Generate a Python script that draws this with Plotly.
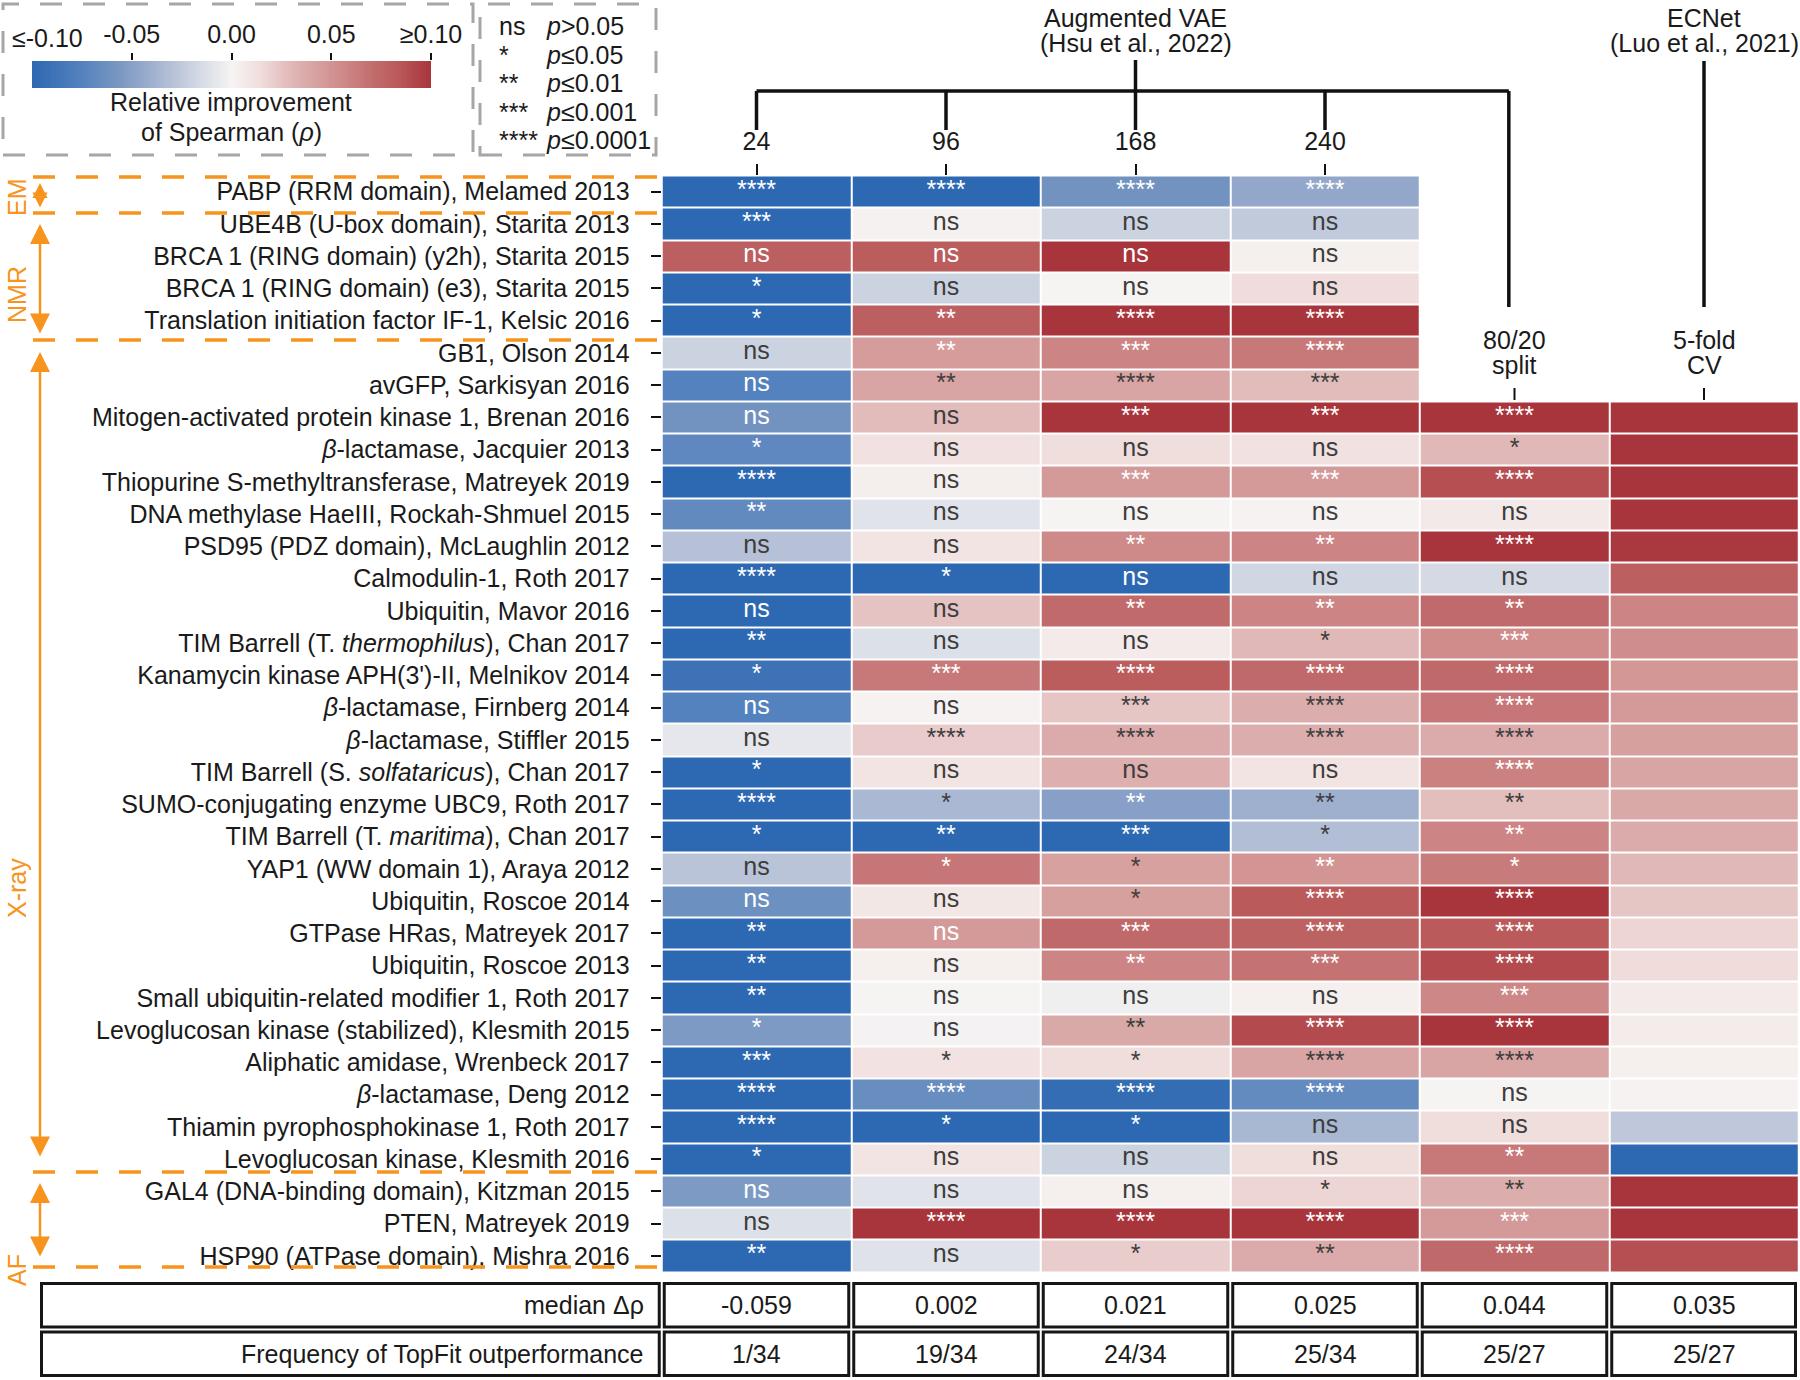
import numpy as np
import plotly.graph_objects as go

# ---------------- data ----------------
datasets = [
    "PABP (RRM domain), Melamed 2013",
    "UBE4B (U-box domain), Starita 2013",
    "BRCA 1 (RING domain) (y2h), Starita 2015",
    "BRCA 1 (RING domain) (e3), Starita 2015",
    "Translation initiation factor IF-1, Kelsic 2016",
    "GB1, Olson 2014",
    "avGFP, Sarkisyan 2016",
    "Mitogen-activated protein kinase 1, Brenan 2016",
    "<i>β</i>-lactamase, Jacquier 2013",
    "Thiopurine S-methyltransferase, Matreyek 2019",
    "DNA methylase HaeIII, Rockah-Shmuel 2015",
    "PSD95 (PDZ domain), McLaughlin 2012",
    "Calmodulin-1, Roth 2017",
    "Ubiquitin, Mavor 2016",
    "TIM Barrell (T. <i>thermophilus</i>), Chan 2017",
    "Kanamycin kinase APH(3')-II, Melnikov 2014",
    "<i>β</i>-lactamase, Firnberg 2014",
    "<i>β</i>-lactamase, Stiffler 2015",
    "TIM Barrell (S. <i>solfataricus</i>), Chan 2017",
    "SUMO-conjugating enzyme UBC9, Roth 2017",
    "TIM Barrell (T. <i>maritima</i>), Chan 2017",
    "YAP1 (WW domain 1), Araya 2012",
    "Ubiquitin, Roscoe 2014",
    "GTPase HRas, Matreyek 2017",
    "Ubiquitin, Roscoe 2013",
    "Small ubiquitin-related modifier 1, Roth 2017",
    "Levoglucosan kinase (stabilized), Klesmith 2015",
    "Aliphatic amidase, Wrenbeck 2017",
    "<i>β</i>-lactamase, Deng 2012",
    "Thiamin pyrophosphokinase 1, Roth 2017",
    "Levoglucosan kinase, Klesmith 2016",
    "GAL4 (DNA-binding domain), Kitzman 2015",
    "PTEN, Matreyek 2019",
    "HSP90 (ATPase domain), Mishra 2016",
]

vae_sizes = ["24", "96", "168", "240"]

vae24 = [-0.10, -0.10, 0.080, -0.10, -0.10, -0.020, -0.075, -0.060, -0.070, -0.10,
         -0.068, -0.030, -0.10, -0.10, -0.10, -0.090, -0.075, -0.008, -0.10, -0.10,
         -0.10, -0.028, -0.063, -0.10, -0.10, -0.10, -0.055, -0.10, -0.10, -0.10,
         -0.10, -0.055, -0.012, -0.10]
sig24 = ["****", "***", "ns", "*", "*", "ns", "ns", "ns", "*", "****",
         "**", "ns", "****", "ns", "**", "*", "ns", "ns", "*", "****",
         "*", "ns", "ns", "**", "**", "**", "*", "***", "****", "****",
         "*", "ns", "ns", "**"]

vae96 = [-0.10, 0.002, 0.082, -0.020, 0.080, 0.045, 0.040, 0.028, 0.012, 0.004,
         -0.010, 0.010, -0.10, 0.025, -0.012, 0.065, 0.001, 0.022, 0.010, -0.035,
         -0.10, 0.066, 0.008, 0.046, 0.003, 0.000, -0.001, 0.011, -0.065, -0.10,
         0.010, -0.010, 0.10, -0.011]
sig96 = ["****", "ns", "ns", "ns", "**", "**", "**", "ns", "ns", "ns",
         "ns", "ns", "*", "ns", "ns", "***", "ns", "****", "ns", "*",
         "**", "*", "ns", "ns", "ns", "ns", "ns", "*", "****", "*",
         "ns", "ns", "****", "ns"]

vae168 = [-0.060, -0.020, 0.10, 0.000, 0.10, 0.058, 0.040, 0.10, 0.014, 0.046,
          0.000, 0.055, -0.10, 0.072, 0.006, 0.082, 0.024, 0.037, 0.034, -0.050,
          -0.10, 0.042, 0.043, 0.073, 0.058, -0.003, 0.038, 0.014, -0.095, -0.10,
          -0.020, 0.003, 0.10, 0.021]
sig168 = ["****", "ns", "ns", "ns", "****", "***", "****", "***", "ns", "***",
          "ns", "**", "ns", "**", "ns", "****", "***", "****", "ns", "**",
          "***", "*", "*", "***", "**", "ns", "**", "*", "****", "*",
          "ns", "ns", "****", "*"]

vae240 = [-0.045, -0.025, 0.003, 0.015, 0.10, 0.065, 0.028, 0.10, 0.012, 0.046,
          0.001, 0.058, -0.018, 0.058, 0.030, 0.073, 0.036, 0.036, 0.010, -0.040,
          -0.032, 0.049, 0.083, 0.078, 0.068, 0.003, 0.090, 0.040, -0.067, -0.036,
          0.014, 0.018, 0.10, 0.037]
sig240 = ["****", "ns", "ns", "ns", "****", "****", "***", "***", "ns", "***",
          "ns", "**", "ns", "**", "*", "****", "****", "****", "ns", "**",
          "*", "**", "****", "****", "***", "ns", "****", "****", "****", "ns",
          "ns", "*", "****", "**"]

split8020 = [None] * 7 + [0.10, 0.030, 0.088, 0.007, 0.10, -0.016, 0.072, 0.054, 0.073, 0.066,
                          0.037, 0.060, 0.027, 0.058, 0.063, 0.10, 0.083, 0.090, 0.057, 0.10,
                          0.040, 0.000, 0.014, 0.064, 0.036, 0.046, 0.073]
sig8020 = [""] * 7 + ["****", "*", "****", "ns", "****", "ns", "**", "***", "****", "****",
                      "****", "****", "**", "**", "*", "****", "****", "****", "***", "****",
                      "****", "ns", "ns", "**", "**", "***", "****"]

cv5fold = [None] * 7 + [0.10, 0.10, 0.10, 0.10, 0.098, 0.080, 0.058, 0.053, 0.048, 0.046,
                        0.043, 0.040, 0.038, 0.037, 0.030, 0.024, 0.018, 0.015, 0.006, 0.005,
                        0.003, 0.001, -0.026, -0.10, 0.10, 0.10, 0.088]

median_drho = [-0.059, 0.002, 0.021, 0.025, 0.044, 0.035]
topfit_wins = [1, 19, 24, 25, 25, 25]
topfit_total = [34, 34, 34, 34, 27, 27]

groups = ["EM", "NMR", "X-ray", "AF"]

# ---------------- styling ----------------
W, H = 1800, 1380
FONT = "Liberation Sans, Arial, Helvetica, sans-serif"
ORANGE = "#f7941d"
GREY = "#a6a6a6"
TXT = "#1a1a1a"


def px(x):
    return x / W


def py(y):
    return 1 - y / H


HM_LEFT, HM_RIGHT = 661.75, 1798.75
HM_TOP, HM_BOTTOM = 175.5, 1272.0
COLW = (HM_RIGHT - HM_LEFT) / 6

colorscale = [
    [0.0, "#2d68b2"], [0.125, "#5482be"], [0.2, "#7293c0"], [0.275, "#93a7cb"],
    [0.35, "#b6c1d7"], [0.425, "#d6dbe5"], [0.5, "#f6f4f3"], [0.575, "#f0dcdb"],
    [0.64, "#e1bcbb"], [0.7, "#d8a5a4"], [0.79, "#cc8584"], [0.86, "#c16a6b"],
    [0.91, "#bb5c5d"], [1.0, "#a8353b"],
]

cols = [vae24, vae96, vae168, vae240, split8020, cv5fold]
sigs = [sig24, sig96, sig168, sig240, sig8020, [""] * 34]
n_rows = len(datasets)

Z = np.array([[np.nan if c[r] is None else c[r] for c in cols] for r in range(n_rows)], dtype=float)

fig = go.Figure()
fig.add_trace(go.Heatmap(
    z=Z, x=list(range(6)), y=list(range(n_rows)),
    colorscale=colorscale, zmin=-0.1, zmax=0.1, showscale=False,
    xgap=2, ygap=2, hoverinfo="skip", xaxis="x", yaxis="y",
))

# significance annotations inside cells
tx, ty, tt, tc = [], [], [], []
for j, (c, s) in enumerate(zip(cols, sigs)):
    for r in range(n_rows):
        if s[r]:
            tx.append(j)
            ty.append(r)
            tt.append(s[r])
            tc.append("white" if abs(c[r]) >= 0.044 else "#3d3d3d")
fig.add_trace(go.Scatter(
    x=tx, y=ty, text=tt, mode="text", textposition="middle center",
    textfont=dict(size=25, color=tc, family=FONT), hoverinfo="skip",
    cliponaxis=False, xaxis="x", yaxis="y", showlegend=False,
))

# colour legend bar
grad = np.linspace(-0.1, 0.1, 256)
fig.add_trace(go.Heatmap(
    z=[grad], x=grad, y=[0], colorscale=colorscale, zmin=-0.1, zmax=0.1,
    showscale=False, hoverinfo="skip", xaxis="x2", yaxis="y2",
))

shapes = []
ann = []

# top bracket (Augmented VAE)
LW = 3.5
def vline(x, y0, y1, xref="x"):
    shapes.append(dict(type="line", xref=xref, yref="paper", x0=x, x1=x, y0=py(y0), y1=py(y1),
                       line=dict(color="#111111", width=LW)))

vline(2, 60, 91)
shapes.append(dict(type="line", xref="x", yref="paper", x0=0, x1=3.97, y0=py(91), y1=py(91),
                   line=dict(color="#111111", width=LW)))
for j in range(4):
    vline(j, 91, 130)
vline(3.97, 91, 307)
vline(5, 61, 307)
for j in (4, 5):
    shapes.append(dict(type="line", xref="x", yref="paper", x0=j, x1=j, y0=py(388), y1=py(400),
                       line=dict(color="#111111", width=2)))

def text(x, y, s, xref="paper", xanchor="center", size=25, color=TXT, angle=0):
    ann.append(dict(x=x, y=y, xref=xref, yref="paper", text=s, showarrow=False,
                    xanchor=xanchor, yanchor="middle", textangle=angle,
                    font=dict(size=size, color=color, family=FONT)))

text(2, py(18), "Augmented VAE", xref="x")
text(2, py(43), "(Hsu et al., 2022)", xref="x")
text(5, py(18), "ECNet", xref="x")
text(5, py(43), "(Luo et al., 2021)", xref="x")
text(4, py(340), "80/20", xref="x")
text(4, py(365), "split", xref="x")
text(5, py(340), "5-fold", xref="x")
text(5, py(365), "CV", xref="x")

# colour legend texts
text(px(47), py(38), "≤-0.10")
text(px(231), py(102), "Relative improvement")
text(px(231), py(132), "of Spearman (<i>ρ</i>)")

# significance legend
sig_keys = ["ns", "*", "**", "***", "****"]
sig_desc = ["<i>p</i>>0.05", "<i>p</i>≤0.05", "<i>p</i>≤0.01", "<i>p</i>≤0.001", "<i>p</i>≤0.0001"]
for k, (a, b) in enumerate(zip(sig_keys, sig_desc)):
    yy = 26 + k * 28.6
    text(px(497), py(yy), a, xanchor="left")
    text(px(544), py(yy), b, xanchor="left")

# dashed grey boxes
for (x0, x1) in [(3, 473), (480, 656)]:
    shapes.append(dict(type="rect", xref="paper", yref="paper", x0=px(x0), x1=px(x1),
                       y0=py(155), y1=py(4), line=dict(color=GREY, width=3, dash="22px,21px")))

# orange group separators
for yy in [177, 213, 340, 1172, 1267]:
    shapes.append(dict(type="line", xref="paper", yref="paper", x0=px(33), x1=px(662),
                       y0=py(yy), y1=py(yy), line=dict(color=ORANGE, width=3.5, dash="22px,21px")))

# orange double arrows
for (y0, y1, sz) in [(183, 209, 1.2), (224, 335, 1.6), (352, 1158, 1.6), (1183, 1258, 1.6)]:
    ann.append(dict(x=px(40), y=py(y0), xref="paper", yref="paper", ax=0, ay=(y1 - y0),
                    axref="pixel", ayref="pixel", text="", showarrow=True, arrowhead=2,
                    arrowside="end+start", arrowsize=sz, arrowwidth=2.5, arrowcolor=ORANGE,
                    standoff=0, startstandoff=0))

for g, yy in zip(groups, [197, 295, 888, 1270]):
    text(px(17), py(yy), g, color=ORANGE, angle=-90)

# summary table
TT, TM, TB = 1281, 1329.5, 1378
bounds = [39] + [HM_LEFT + j * COLW for j in range(7)]
ins = 2.5
for (ya, yb) in [(TT, TM), (TM, TB)]:
    for k in range(7):
        xa, xb = bounds[k], min(bounds[k + 1], 1798)
        shapes.append(dict(type="rect", xref="paper", yref="paper",
                           x0=px(xa + ins), x1=px(xb - ins), y0=py(yb - ins), y1=py(ya + ins),
                           line=dict(color="#161616", width=3)))

ym1, ym2 = (TT + TM) / 2, (TM + TB) / 2
text(px(646), py(ym1), "median Δρ", xanchor="right")
text(px(646), py(ym2), "Frequency of TopFit outperformance", xanchor="right")
for j in range(6):
    text(j, py(ym1), f"{median_drho[j]:.3f}", xref="x")
    text(j, py(ym2), f"{topfit_wins[j]}/{topfit_total[j]}", xref="x")

fig.update_layout(
    template="none", autosize=False,
    width=W, height=H, margin=dict(l=0, r=0, t=0, b=0, pad=0, autoexpand=False),
    paper_bgcolor="white", plot_bgcolor="white", showlegend=False,
    font=dict(family=FONT, size=25, color=TXT),
    xaxis=dict(domain=[px(HM_LEFT), px(HM_RIGHT)], range=[-0.5, 5.5], side="top",
               tickvals=[0, 1, 2, 3], ticktext=vae_sizes, ticks="outside", ticklen=11,
               tickwidth=2, tickcolor="#111111", showgrid=False, zeroline=False, showline=False,
               automargin=False,
               tickfont=dict(size=25, color=TXT, family=FONT), ticklabelstandoff=4),
    yaxis=dict(domain=[py(HM_BOTTOM), py(HM_TOP)], range=[n_rows - 0.5, -0.5],
               tickvals=list(range(n_rows)), ticktext=datasets, ticks="outside", ticklen=10,
               tickwidth=2, tickcolor="#111111", showgrid=False, zeroline=False, showline=False,
               automargin=False,
               tickfont=dict(size=25, color=TXT, family=FONT), ticklabelstandoff=16),
    xaxis2=dict(domain=[px(32), px(431)], range=[-0.1, 0.1], anchor="y2", side="top",
                tickvals=[-0.05, 0, 0.05, 0.1], ticktext=["-0.05", "0.00", "0.05", "≥0.10"],
                ticks="outside", ticklen=7, tickwidth=2, tickcolor="#111111",
                showgrid=False, zeroline=False, showline=False, automargin=False,
                tickfont=dict(size=25, color=TXT, family=FONT)),
    yaxis2=dict(domain=[py(88), py(61)], range=[-0.5, 0.5], anchor="x2", visible=False,
                automargin=False),
    shapes=shapes, annotations=ann,
)

fig.write_html(
    "out.html",
    config={"displayModeBar": False, "responsive": False},
    post_script="document.body.style.margin='0';document.body.style.padding='0';"
                "document.body.style.overflow='hidden';",
)
